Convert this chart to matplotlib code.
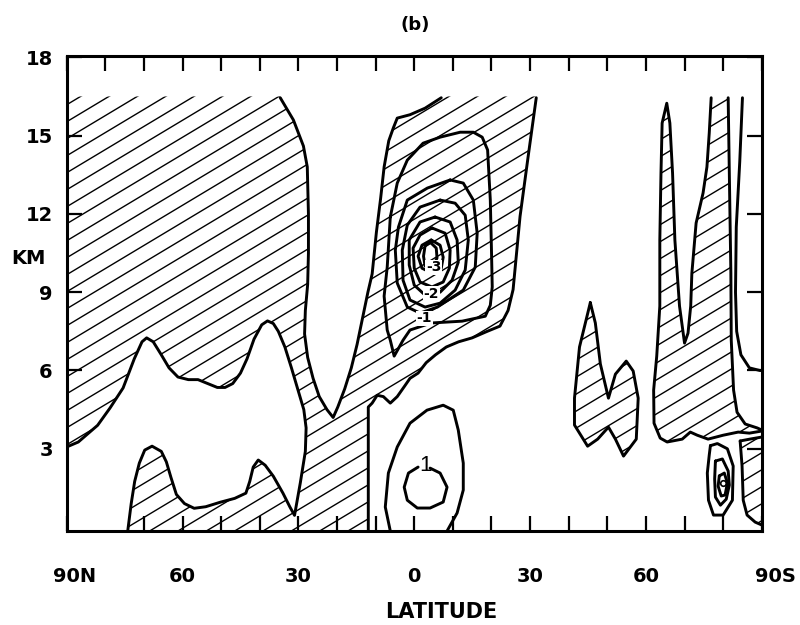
import numpy as np
import matplotlib
matplotlib.use("Agg")
import matplotlib.pyplot as plt
from matplotlib.patches import Polygon
from matplotlib.collections import LineCollection
from matplotlib.transforms import ScaledTranslation

# latitude runs from 90N (-90) to 90S (+90); heights in km
HATCH_TOP = 16.5
BOTTOM = -0.15

# boundary of the big NH area, down into the V and up the left side of the tropical band
nh_edge = [(-34.7, 16.45), (-31.3, 15.6), (-28.7, 14.6), (-27.7, 13.8), (-27.4, 12.0),
           (-27.4, 10.5), (-27.6, 9.3), (-28.2, 8.3), (-28.4, 7.4), (-27.6, 6.5),
           (-26.2, 5.7), (-24.6, 5.0), (-22.6, 4.5), (-21.0, 4.2), (-19.8, 4.6),
           (-18.0, 5.3), (-16.3, 6.1), (-14.8, 7.0), (-13.4, 8.0), (-12.0, 9.0),
           (-10.9, 9.7), (-9.8, 11.3), (-8.7, 12.6), (-7.8, 13.8), (-6.6, 14.8),
           (-5.4, 15.3), (-4.4, 15.67), (-1.1, 15.8), (2.8, 16.05), (7.0, 16.45)]

# right side of the tropical band, its lower edge and the wall at 12N
band_edge = [(31.6, 16.45), (29.5, 14.2), (27.4, 11.9), (25.6, 9.1), (24.3, 8.3),
             (22.2, 7.7), (18.9, 7.5), (15.0, 7.25), (11.5, 7.1), (8.3, 6.9),
             (5.5, 6.6), (3.1, 6.3), (1.0, 5.9), (-1.1, 5.7), (-2.5, 5.4),
             (-4.4, 5.0), (-6.2, 4.75), (-8.0, 5.0), (-9.6, 5.05), (-10.9, 4.75),
             (-11.9, 4.6), (-11.9, BOTTOM)]

# unshaded pocket in the lower NH troposphere
nh_pocket = [(-90, 3.07), (-87, 3.26), (-82, 3.9), (-78.8, 4.56), (-75.4, 5.33),
             (-72.5, 6.45), (-70.5, 7.1), (-69.3, 7.25), (-67.6, 7.1), (-65.5, 6.6),
             (-63.5, 6.1), (-61.2, 5.75), (-58.5, 5.65), (-56, 5.65), (-53.5, 5.5),
             (-51, 5.35), (-49, 5.35), (-47, 5.5), (-45, 5.9), (-43.3, 6.45),
             (-41.5, 7.2), (-39.5, 7.75), (-38, 7.9), (-36.5, 7.8), (-35.2, 7.5),
             (-33.5, 6.9), (-31.8, 6.1), (-30.2, 5.3), (-28.6, 4.5), (-28.0, 3.8),
             (-28.2, 2.9), (-29.5, 1.7), (-31.0, 0.45),
             (-32.2, 0.77), (-34.0, 1.3), (-36.5, 1.95), (-38.6, 2.37), (-40.4, 2.57),
             (-41.7, 2.3), (-42.6, 1.75), (-43.6, 1.3), (-46.5, 1.1), (-50.3, 0.95),
             (-54.0, 0.78), (-57.0, 0.72), (-59.5, 0.9), (-61.6, 1.25), (-63.0, 1.9),
             (-64.2, 2.5), (-65.5, 2.9), (-67.9, 3.1), (-69.8, 2.95), (-71.2, 2.45),
             (-72.4, 1.75), (-73.3, 0.9), (-74.2, BOTTOM)]

# two-lobed cell near 50S
sh_lobes = [(45.6, 8.6), (46.9, 7.82), (48.2, 6.25), (50.3, 4.94), (52.1, 5.86),
            (54.9, 6.36), (56.7, 5.98), (58.0, 4.94), (57.5, 3.37), (54.2, 2.72),
            (52.1, 3.37), (50.3, 3.83), (47.5, 3.37), (44.9, 3.1), (41.5, 3.91),
            (41.5, 4.94), (42.8, 6.9)]

# high-latitude SH spikes
spike_left = [(76.9, 16.45), (76.4, 15.1), (75.8, 13.8), (74.8, 12.8), (73.0, 11.65),
              (71.9, 9.73), (71.6, 8.47), (70.9, 7.43), (70.0, 7.05), (68.7, 8.47),
              (67.5, 11.0), (66.9, 13.56), (66.2, 15.48), (65.4, 16.24), (64.2, 15.48),
              (63.9, 13.56), (63.6, 11.0), (63.6, 8.47), (62.8, 6.55), (62.0, 5.25),
              (62.1, 3.98), (63.7, 3.41), (65.5, 3.26), (69.4, 3.37), (71.5, 3.64),
              (73.3, 3.52), (76.1, 3.37), (80.0, 3.52), (83.9, 3.64), (86.8, 3.6),
              (90, 3.68)]
spike_right = [(90, 3.72), (88.8, 3.8), (85.7, 3.95), (83.6, 4.4), (82.7, 5.25),
               (82.1, 7.16), (82.0, 9.73), (81.6, 13.56), (81.3, 16.45)]
polar_line = [(85.0, 16.45), (84.3, 14.0), (83.4, 11.5), (83.2, 9.0), (83.5, 7.5),
              (84.6, 6.6), (86.8, 6.1), (89.5, 6.0), (90, 6.0)]
polar_side = [(84.4, 3.3), (84.9, 2.34), (85.2, 1.03), (86.2, 0.46), (88.3, 0.19), (90, 0.08)]
polar_top = [(84.4, 3.3), (86.9, 3.37), (90, 3.45)]

# closed centres
core_loops = [
    [(-6.2, 11.88), (-4.4, 13.18), (-1.8, 14.06), (2.3, 14.71), (6.7, 14.94), (11.9, 15.13),
     (15.3, 15.13), (17.6, 14.94), (19.0, 14.45), (19.7, 12.53), (20.0, 10.61), (20.2, 9.2),
     (19.7, 8.5), (18.4, 8.08), (12.4, 7.89), (4.4, 7.82), (-1.1, 7.55), (-2.9, 7.16),
     (-5.2, 6.55), (-6.2, 7.16), (-7.0, 7.55), (-7.8, 8.85), (-7.0, 9.96)],
    [(9.3, 13.3), (12.7, 13.18), (15.3, 12.53), (16.3, 11.26), (15.8, 9.96), (12.7, 9.08),
     (6.0, 8.43), (1.5, 8.2), (-1.8, 8.43), (-4.4, 9.35), (-4.9, 10.61), (-4.1, 11.49),
     (-1.8, 12.53), (3.4, 12.99)],
    [(6.7, 12.53), (10.6, 12.41), (13.2, 11.95), (14.0, 11.0), (13.2, 9.85), (10.6, 9.08),
     (6.7, 8.58), (2.8, 8.43), (-1.1, 8.7), (-2.9, 9.46), (-3.1, 10.61), (-1.8, 11.57),
     (1.5, 12.26)],
    [(5.4, 11.88), (9.3, 11.69), (11.1, 11.0), (11.4, 10.15), (9.8, 9.46), (6.7, 9.0),
     (2.8, 8.89), (0, 9.27), (-1.3, 10.04), (-1.3, 11.0), (1.5, 11.69)],
    [(4.6, 11.46), (8.0, 11.26), (9.3, 10.61), (9.1, 9.92), (7.5, 9.39), (4.6, 9.2),
     (1.5, 9.39), (0, 9.92), (-0.3, 10.69), (1.5, 11.19)],
    [(4.4, 11.0), (6.7, 10.8), (7.5, 10.34), (7.0, 9.92), (4.6, 9.73), (2.0, 9.92),
     (1.0, 10.38), (2.0, 10.8)],
    [(4.1, 10.92), (5.7, 10.69), (5.9, 10.31), (4.9, 10.0), (2.8, 10.0), (2.4, 10.38),
     (2.8, 10.77)],
]
core_labels = [("-3", 5.0, 9.95), ("-2", 4.4, 8.95), ("-1", 2.6, 8.0)]

surface_arch = [(-6.2, BOTTOM), (-7.5, 0.77), (-6.7, 2.07), (-4.4, 3.07), (-1.1, 3.98),
                (3.3, 4.48), (7.5, 4.67), (10.1, 4.48), (11.4, 3.72), (12.7, 2.45),
                (12.7, 1.42), (11.1, 0.54), (8.5, BOTTOM)]
surface_ring = [(4.1, 2.26), (6.7, 2.07), (8.5, 1.53), (7.5, 0.96), (4.1, 0.73), (0.8, 0.73),
                (-1.8, 1.03), (-2.6, 1.53), (-1.5, 2.07), (1.0, 2.3)]

polar_loops = [
    [(76.7, 3.12), (78.5, 3.2), (81.1, 3.0), (82.6, 2.34), (82.4, 1.03), (80.0, 0.46),
     (77.5, 0.46), (76.2, 1.03), (75.9, 2.07), (76.4, 2.76)],
    [(78.0, 2.53), (79.8, 2.61), (81.3, 2.15), (81.6, 1.61), (80.8, 1.07), (79.3, 0.84),
     (78.0, 1.15), (77.8, 1.84)],
    [(79.0, 1.96), (80.3, 2.07), (81.1, 1.69), (80.5, 1.23), (79.5, 1.19), (78.7, 1.57)],
]

lat_ticks = [-90, -60, -30, 0, 30, 60, 90]
lat_labels = ["90N", "60", "30", "0", "30", "60", "90S"]
km_ticks = [3, 6, 9, 12, 15, 18]

LW = 2.1
plt.rcParams["font.family"] = ["DejaVu Sans"]

fig = plt.figure(figsize=(8, 6.25), dpi=100)
ax = fig.add_axes([0.0834, 0.1504, 0.8688, 0.76])
ax.set_xlim(-90, 90)
ax.set_ylim(BOTTOM, 18.05)

# diagonal shading lines, in axes units so the slope is fixed on screen
slope = 0.6 * (695 / 475)
gap = 17 / 475
offsets = np.arange(-slope - 0.05, 1.1, gap)
hatch_segs = [[(0, c), (1, c + slope)] for c in offsets]


def shade(verts):
    poly = Polygon(verts, closed=True, facecolor="none", edgecolor="none")
    ax.add_patch(poly)
    lc = LineCollection(hatch_segs, transform=ax.transAxes, colors="black",
                        linewidths=1.0, zorder=1)
    lc.set_clip_path(poly)
    ax.add_collection(lc, autolim=False)


def draw(pts, closed=False):
    pts = list(pts) + ([pts[0]] if closed else [])
    xs, ys = zip(*pts)
    ax.plot(xs, ys, color="black", lw=LW, solid_joinstyle="round",
            solid_capstyle="round", zorder=3)


main_area = ([(-90, BOTTOM), (-90, HATCH_TOP), (nh_edge[0][0], HATCH_TOP)] + nh_edge
             + [(nh_edge[-1][0], HATCH_TOP), (band_edge[0][0], HATCH_TOP)] + band_edge)
shade(main_area)
pocket = nh_pocket + [(-90, BOTTOM)]
ax.add_patch(Polygon(pocket, closed=True, facecolor="white", edgecolor="none", zorder=2))

shade(sh_lobes)
shade(spike_left + spike_right)
shade(polar_side + polar_top[::-1])

draw(nh_edge)
draw(band_edge)
draw(nh_pocket)
draw(sh_lobes, closed=True)
draw(spike_left)
draw(spike_right)
draw(polar_line)
draw(polar_side)
draw(polar_top)
for loop in core_loops:
    draw(loop, closed=True)
for loop in polar_loops:
    draw(loop, closed=True)
ax.plot(80.0, 1.69, "o", ms=4, mfc="none", mec="black", mew=1.2, zorder=3)
draw(surface_arch)
draw(surface_ring)
ax.text(3.0, 2.35, "1", fontsize=16, family="Liberation Sans", ha="center", va="center",
        zorder=4)
for txt, x, y in core_labels:
    ax.text(x, y, txt, fontsize=10, fontweight="bold", ha="center", va="center", zorder=4,
            bbox=dict(boxstyle="square,pad=0.05", fc="white", ec="none"))

# frame and ticks
for sp in ax.spines.values():
    sp.set_linewidth(2.2)
ax.set_xticks(lat_ticks)
ax.set_xticklabels(lat_labels)
ax.set_xticks(np.arange(-80, 90, 10), minor=True)
ax.set_yticks(km_ticks)
ax.set_yticklabels([str(k) for k in km_ticks])
ax.tick_params(which="both", direction="in", length=10.5, width=1.6,
               top=True, right=True, labelright=False, labeltop=False)
ax.tick_params(axis="x", pad=26, labelsize=14)
ax.tick_params(axis="y", pad=10, labelsize=14)
for lab in ax.get_xticklabels() + ax.get_yticklabels():
    lab.set_fontweight("bold")
for lab in ax.get_xticklabels():
    if lab.get_text() == "90N":
        lab.set_transform(lab.get_transform() + ScaledTranslation(6 / 72, 0, fig.dpi_scale_trans))
    if lab.get_text() == "90S":
        lab.set_transform(lab.get_transform() + ScaledTranslation(10 / 72, 0, fig.dpi_scale_trans))

fig.text(441 / 800, 1 - 612 / 625, "LATITUDE", ha="center", va="center",
         fontsize=15, fontweight="bold")
fig.text(28 / 800, 1 - 258 / 625, "KM", ha="center", va="center",
         fontsize=14, fontweight="bold")
fig.text(415 / 800, 1 - 25 / 625, "(b)", ha="center", va="center",
         fontsize=13, fontweight="bold")

fig.savefig("out.png", dpi=100)
